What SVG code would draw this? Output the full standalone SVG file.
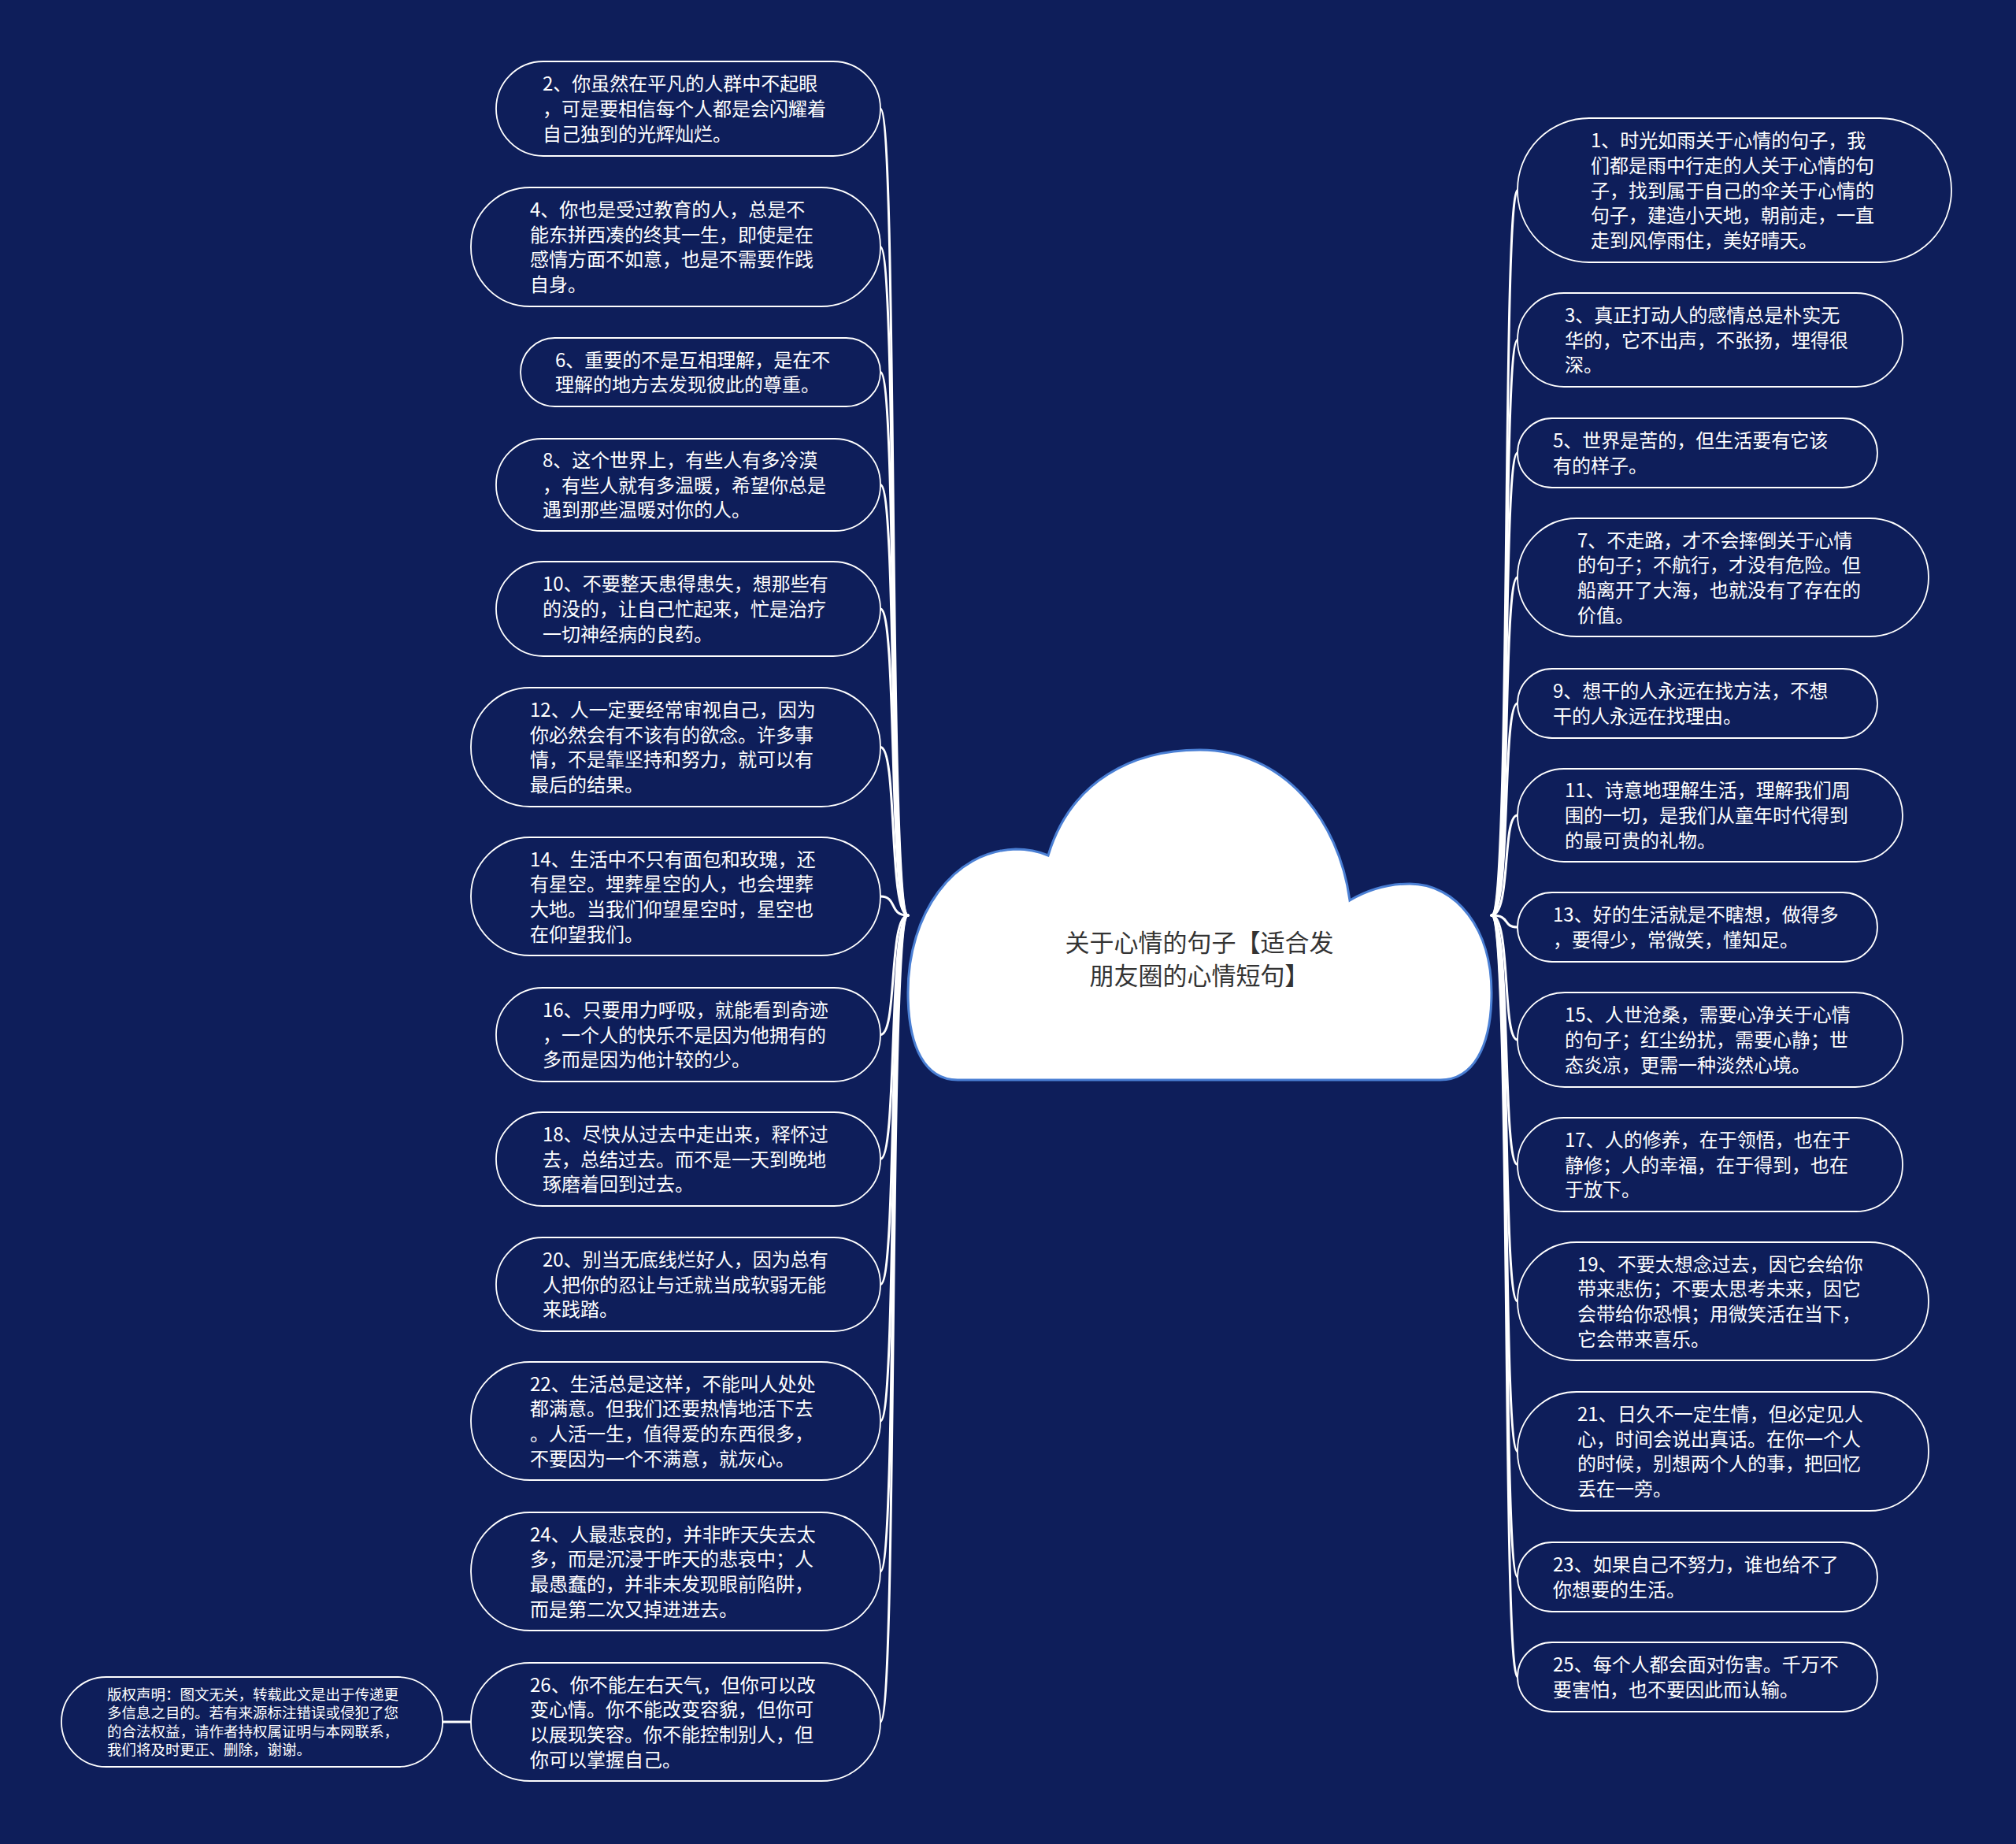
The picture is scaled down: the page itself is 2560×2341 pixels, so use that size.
<svg xmlns="http://www.w3.org/2000/svg" width="2560" height="2341" viewBox="0 0 2560 2341">
<style>
.bg{fill:#0e1e5a}
.node rect{fill:#0e1e5a;stroke:#ffffff;stroke-width:1.8}
.node text{fill:#ffffff;font-family:"Noto Sans CJK SC","Noto Sans",sans-serif;font-size:24px}
.node text.small{font-size:18.5px}
.conn path{fill:none;stroke:#ffffff;stroke-width:3;stroke-linecap:round}
.root path{fill:#ffffff;stroke:#4a7fd4;stroke-width:3}
.root text{fill:#333333;font-family:"Noto Sans CJK SC","Noto Sans",sans-serif;font-size:31px;text-anchor:middle}
</style>
<rect class="bg" x="0" y="0" width="2560" height="2341"/>
<g id="connectors" class="conn">
<path d="M1153 1162 C1128 1162 1140 138 1118 138"/>
<path d="M1153 1162 C1128 1162 1140 313.5 1118 313.5"/>
<path d="M1153 1162 C1128 1162 1140 472.5 1118 472.5"/>
<path d="M1153 1162 C1128 1162 1140 615.5 1118 615.5"/>
<path d="M1153 1162 C1128 1162 1140 773 1118 773"/>
<path d="M1153 1162 C1128 1162 1140 948.5 1118 948.5"/>
<path d="M1153 1162 C1128 1162 1140 1138 1118 1138"/>
<path d="M1153 1162 C1128 1162 1140 1313.5 1118 1313.5"/>
<path d="M1153 1162 C1128 1162 1140 1471.5 1118 1471.5"/>
<path d="M1153 1162 C1128 1162 1140 1630.5 1118 1630.5"/>
<path d="M1153 1162 C1128 1162 1140 1804 1118 1804"/>
<path d="M1153 1162 C1128 1162 1140 1995 1118 1995"/>
<path d="M1153 1162 C1128 1162 1140 2186 1118 2186"/>
<path d="M598 2186 L562 2186"/>
<path d="M1894 1162 C1919 1162 1907 241.5 1927 241.5"/>
<path d="M1894 1162 C1919 1162 1907 431.5 1927 431.5"/>
<path d="M1894 1162 C1919 1162 1907 575 1927 575"/>
<path d="M1894 1162 C1919 1162 1907 733 1927 733"/>
<path d="M1894 1162 C1919 1162 1907 893 1927 893"/>
<path d="M1894 1162 C1919 1162 1907 1035 1927 1035"/>
<path d="M1894 1162 C1919 1162 1907 1177 1927 1177"/>
<path d="M1894 1162 C1919 1162 1907 1320 1927 1320"/>
<path d="M1894 1162 C1919 1162 1907 1478.5 1927 1478.5"/>
<path d="M1894 1162 C1919 1162 1907 1652 1927 1652"/>
<path d="M1894 1162 C1919 1162 1907 1842.5 1927 1842.5"/>
<path d="M1894 1162 C1919 1162 1907 2002 1927 2002"/>
<path d="M1894 1162 C1919 1162 1907 2129 1927 2129"/>
</g>
<g id="root" class="root">
<path d="M1216 1371 C1175 1371 1153 1330 1153 1260 C1153 1160 1210 1080 1290 1078 Q1312 1078 1331 1086 C1360 990 1440 952 1523 952 C1630 952 1700 1040 1714 1143 C1745 1125 1770 1122 1790 1122 C1850 1122 1894 1180 1894 1260 C1894 1330 1870 1371 1829 1371 Z"/>
<text x="1523" y="1208">关于心情的句子【适合发</text>
<text x="1523" y="1250">朋友圈的心情短句】</text>
</g>
<g id="n2" class="node"><rect x="630" y="78" width="488" height="120" rx="60"/><text x="689" y="115.3"><tspan x="689">2、你虽然在平凡的人群中不起眼</tspan><tspan x="689" dy="31.7">，可是要相信每个人都是会闪耀着</tspan><tspan x="689" dy="31.7">自己独到的光辉灿烂。</tspan></text></g>
<g id="n4" class="node"><rect x="598" y="238" width="520" height="151" rx="75"/><text x="673" y="275"><tspan x="673">4、你也是受过教育的人，总是不</tspan><tspan x="673" dy="31.7">能东拼西凑的终其一生，即使是在</tspan><tspan x="673" dy="31.7">感情方面不如意，也是不需要作践</tspan><tspan x="673" dy="31.7">自身。</tspan></text></g>
<g id="n6" class="node"><rect x="661" y="429" width="457" height="87" rx="43.5"/><text x="705" y="465.7"><tspan x="705">6、重要的不是互相理解，是在不</tspan><tspan x="705" dy="31.7">理解的地方去发现彼此的尊重。</tspan></text></g>
<g id="n8" class="node"><rect x="630" y="557" width="488" height="117" rx="58"/><text x="689" y="592.8"><tspan x="689">8、这个世界上，有些人有多冷漠</tspan><tspan x="689" dy="31.7">，有些人就有多温暖，希望你总是</tspan><tspan x="689" dy="31.7">遇到那些温暖对你的人。</tspan></text></g>
<g id="n10" class="node"><rect x="630" y="713" width="488" height="120" rx="60"/><text x="689" y="750.3"><tspan x="689">10、不要整天患得患失，想那些有</tspan><tspan x="689" dy="31.7">的没的，让自己忙起来，忙是治疗</tspan><tspan x="689" dy="31.7">一切神经病的良药。</tspan></text></g>
<g id="n12" class="node"><rect x="598" y="873" width="520" height="151" rx="75"/><text x="673" y="910"><tspan x="673">12、人一定要经常审视自己，因为</tspan><tspan x="673" dy="31.7">你必然会有不该有的欲念。许多事</tspan><tspan x="673" dy="31.7">情，不是靠坚持和努力，就可以有</tspan><tspan x="673" dy="31.7">最后的结果。</tspan></text></g>
<g id="n14" class="node"><rect x="598" y="1063" width="520" height="150" rx="75"/><text x="673" y="1099.5"><tspan x="673">14、生活中不只有面包和玫瑰，还</tspan><tspan x="673" dy="31.7">有星空。埋葬星空的人，也会埋葬</tspan><tspan x="673" dy="31.7">大地。当我们仰望星空时，星空也</tspan><tspan x="673" dy="31.7">在仰望我们。</tspan></text></g>
<g id="n16" class="node"><rect x="630" y="1254" width="488" height="119" rx="59"/><text x="689" y="1290.8"><tspan x="689">16、只要用力呼吸，就能看到奇迹</tspan><tspan x="689" dy="31.7">，一个人的快乐不是因为他拥有的</tspan><tspan x="689" dy="31.7">多而是因为他计较的少。</tspan></text></g>
<g id="n18" class="node"><rect x="630" y="1412" width="488" height="119" rx="59"/><text x="689" y="1448.8"><tspan x="689">18、尽快从过去中走出来，释怀过</tspan><tspan x="689" dy="31.7">去，总结过去。而不是一天到晚地</tspan><tspan x="689" dy="31.7">琢磨着回到过去。</tspan></text></g>
<g id="n20" class="node"><rect x="630" y="1571" width="488" height="119" rx="59"/><text x="689" y="1607.8"><tspan x="689">20、别当无底线烂好人，因为总有</tspan><tspan x="689" dy="31.7">人把你的忍让与迁就当成软弱无能</tspan><tspan x="689" dy="31.7">来践踏。</tspan></text></g>
<g id="n22" class="node"><rect x="598" y="1729" width="520" height="150" rx="75"/><text x="673" y="1765.5"><tspan x="673">22、生活总是这样，不能叫人处处</tspan><tspan x="673" dy="31.7">都满意。但我们还要热情地活下去</tspan><tspan x="673" dy="31.7">。人活一生，值得爱的东西很多，</tspan><tspan x="673" dy="31.7">不要因为一个不满意，就灰心。</tspan></text></g>
<g id="n24" class="node"><rect x="598" y="1920" width="520" height="150" rx="75"/><text x="673" y="1956.5"><tspan x="673">24、人最悲哀的，并非昨天失去太</tspan><tspan x="673" dy="31.7">多，而是沉浸于昨天的悲哀中；人</tspan><tspan x="673" dy="31.7">最愚蠢的，并非未发现眼前陷阱，</tspan><tspan x="673" dy="31.7">而是第二次又掉进进去。</tspan></text></g>
<g id="n26" class="node"><rect x="598" y="2111" width="520" height="150" rx="75"/><text x="673" y="2147.5"><tspan x="673">26、你不能左右天气，但你可以改</tspan><tspan x="673" dy="31.7">变心情。你不能改变容貌，但你可</tspan><tspan x="673" dy="31.7">以展现笑容。你不能控制别人，但</tspan><tspan x="673" dy="31.7">你可以掌握自己。</tspan></text></g>
<g id="copyright" class="node"><rect x="78" y="2129" width="484" height="114" rx="57"/><text class="small" x="136" y="2157.8"><tspan x="136">版权声明：图文无关，转载此文是出于传递更</tspan><tspan x="136" dy="23.5">多信息之目的。若有来源标注错误或侵犯了您</tspan><tspan x="136" dy="23.5">的合法权益，请作者持权属证明与本网联系，</tspan><tspan x="136" dy="23.5">我们将及时更正、删除，谢谢。</tspan></text></g>
<g id="n1" class="node"><rect x="1927" y="150" width="551" height="183" rx="91"/><text x="2020" y="187.1"><tspan x="2020">1、时光如雨关于心情的句子，我</tspan><tspan x="2020" dy="31.7">们都是雨中行走的人关于心情的句</tspan><tspan x="2020" dy="31.7">子，找到属于自己的伞关于心情的</tspan><tspan x="2020" dy="31.7">句子，建造小天地，朝前走，一直</tspan><tspan x="2020" dy="31.7">走到风停雨住，美好晴天。</tspan></text></g>
<g id="n3" class="node"><rect x="1927" y="372" width="489" height="119" rx="59"/><text x="1987" y="408.8"><tspan x="1987">3、真正打动人的感情总是朴实无</tspan><tspan x="1987" dy="31.7">华的，它不出声，不张扬，埋得很</tspan><tspan x="1987" dy="31.7">深。</tspan></text></g>
<g id="n5" class="node"><rect x="1927" y="531" width="457" height="88" rx="44"/><text x="1972" y="568.2"><tspan x="1972">5、世界是苦的，但生活要有它该</tspan><tspan x="1972" dy="31.7">有的样子。</tspan></text></g>
<g id="n7" class="node"><rect x="1927" y="658" width="522" height="150" rx="75"/><text x="2003" y="694.5"><tspan x="2003">7、不走路，才不会摔倒关于心情</tspan><tspan x="2003" dy="31.7">的句子；不航行，才没有危险。但</tspan><tspan x="2003" dy="31.7">船离开了大海，也就没有了存在的</tspan><tspan x="2003" dy="31.7">价值。</tspan></text></g>
<g id="n9" class="node"><rect x="1927" y="849" width="457" height="88" rx="44"/><text x="1972" y="886.2"><tspan x="1972">9、想干的人永远在找方法，不想</tspan><tspan x="1972" dy="31.7">干的人永远在找理由。</tspan></text></g>
<g id="n11" class="node"><rect x="1927" y="976" width="489" height="118" rx="59"/><text x="1987" y="1012.3"><tspan x="1987">11、诗意地理解生活，理解我们周</tspan><tspan x="1987" dy="31.7">围的一切，是我们从童年时代得到</tspan><tspan x="1987" dy="31.7">的最可贵的礼物。</tspan></text></g>
<g id="n13" class="node"><rect x="1927" y="1133" width="457" height="88" rx="44"/><text x="1972" y="1170.2"><tspan x="1972">13、好的生活就是不瞎想，做得多</tspan><tspan x="1972" dy="31.7">，要得少，常微笑，懂知足。</tspan></text></g>
<g id="n15" class="node"><rect x="1927" y="1260" width="489" height="120" rx="60"/><text x="1987" y="1297.3"><tspan x="1987">15、人世沧桑，需要心净关于心情</tspan><tspan x="1987" dy="31.7">的句子；红尘纷扰，需要心静；世</tspan><tspan x="1987" dy="31.7">态炎凉，更需一种淡然心境。</tspan></text></g>
<g id="n17" class="node"><rect x="1927" y="1419" width="489" height="119" rx="59"/><text x="1987" y="1455.8"><tspan x="1987">17、人的修养，在于领悟，也在于</tspan><tspan x="1987" dy="31.7">静修；人的幸福，在于得到，也在</tspan><tspan x="1987" dy="31.7">于放下。</tspan></text></g>
<g id="n19" class="node"><rect x="1927" y="1577" width="522" height="150" rx="75"/><text x="2003" y="1613.5"><tspan x="2003">19、不要太想念过去，因它会给你</tspan><tspan x="2003" dy="31.7">带来悲伤；不要太思考未来，因它</tspan><tspan x="2003" dy="31.7">会带给你恐惧；用微笑活在当下，</tspan><tspan x="2003" dy="31.7">它会带来喜乐。</tspan></text></g>
<g id="n21" class="node"><rect x="1927" y="1767" width="522" height="151" rx="75"/><text x="2003" y="1804"><tspan x="2003">21、日久不一定生情，但必定见人</tspan><tspan x="2003" dy="31.7">心，时间会说出真话。在你一个人</tspan><tspan x="2003" dy="31.7">的时候，别想两个人的事，把回忆</tspan><tspan x="2003" dy="31.7">丢在一旁。</tspan></text></g>
<g id="n23" class="node"><rect x="1927" y="1958" width="457" height="88" rx="44"/><text x="1972" y="1995.2"><tspan x="1972">23、如果自己不努力，谁也给不了</tspan><tspan x="1972" dy="31.7">你想要的生活。</tspan></text></g>
<g id="n25" class="node"><rect x="1927" y="2085" width="457" height="88" rx="44"/><text x="1972" y="2122.2"><tspan x="1972">25、每个人都会面对伤害。千万不</tspan><tspan x="1972" dy="31.7">要害怕，也不要因此而认输。</tspan></text></g>
</svg>
